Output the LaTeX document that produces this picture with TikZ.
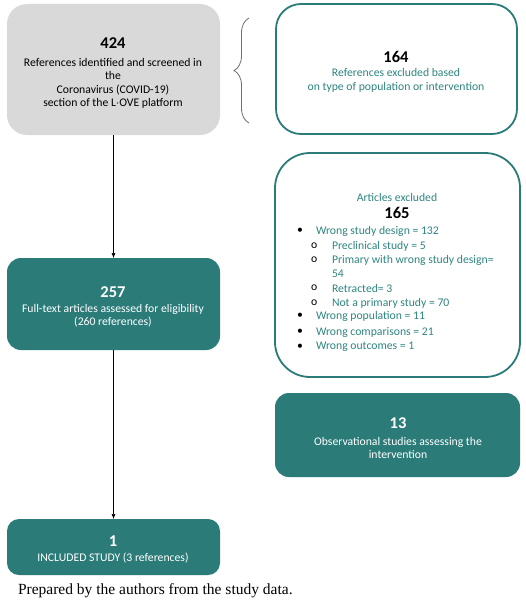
\documentclass[tikz,border=0pt]{standalone}
\usepackage{fontspec}
\setmainfont{Carlito}
\newfontfamily\capfont{Liberation Serif}
\usetikzlibrary{arrows.meta,decorations.pathreplacing}
\definecolor{tealA}{HTML}{2B7C79}
\definecolor{tealT}{HTML}{2F8581}
\definecolor{grayA}{HTML}{D9D9D9}
\definecolor{braceC}{HTML}{6F6F6F}
\begin{document}
\begin{tikzpicture}[x=1pt,y=-1pt,
  every node/.style={inner sep=0pt,outer sep=0pt},
  graybox/.style={fill=grayA,draw=none,rounded corners=20pt},
  outlinebox/.style={draw=tealA,line width=1.8pt,fill=white},
  tealbox/.style={fill=tealA,draw=none,rounded corners=14pt},
  num/.style={font=\fontsize{16.5}{18}\selectfont\bfseries},
  body/.style={font=\fontsize{11.7}{13.4}\selectfont,align=center},
  tealtext/.style={text=tealT},
  wtext/.style={text=white},
  item/.style={anchor=west,font=\fontsize{11.7}{13}\selectfont,text=tealT},
  conn/.style={draw=black,line width=0.6pt,-{Latex[length=5pt,width=4pt]}}
]
\useasboundingbox[fill=white] (0,0) rectangle (525,602);

% boxes
\node[graybox,minimum width=213pt,minimum height=131pt] (g) at (113.5,69.5) {};
\node[outlinebox,rounded corners=25pt,minimum width=241pt,minimum height=130pt] (ex1) at (396.5,69) {};
\node[outlinebox,rounded corners=35pt,minimum width=245pt,minimum height=224pt] (ex2) at (397.5,265) {};
\node[tealbox,minimum width=213pt,minimum height=92pt] (ft) at (113.5,304) {};
\node[tealbox,minimum width=245pt,minimum height=84pt] (obs) at (397.5,435) {};
\node[tealbox,rounded corners=12pt,minimum width=213pt,minimum height=56pt] (inc) at (113.5,547) {};

% brace
\coordinate (bb) at (249,123);
\coordinate (bt) at (249,18);
\draw[braceC,line width=0.8pt,decorate,decoration={brace,amplitude=15pt}] (bb) -- (bt);

% gray box text
\node[num] (gn) at (113,43) {424};
\node[body] (gt) at (113,83.5) {References identified and screened in\\the\\Coronavirus (COVID-19)\\section of the L$\cdot$OVE platform};

% excluded 1
\node[num] (e1n) at (396,57) {164};
\node[body,tealtext,font=\fontsize{11.7}{14}\selectfont] (e1t) at (396,80.5) {References excluded based\\on type of population or intervention};

% excluded 2
\node[body,tealtext] (e2h) at (397,197) {Articles excluded};
\node[num] (e2n) at (397,213) {165};
\node[item,text=black] (b1) at (297,231) {\textbullet};
\node[item] (l1) at (316,231) {Wrong study design = 132};
\node[item,text=black] (c1) at (311,246) {o};
\node[item] (l2) at (332,246) {Preclinical study = 5};
\node[item,text=black] (c2) at (311,260) {o};
\node[item] (l3) at (332,260) {Primary with wrong study design=};
\node[item] (l3b) at (332,274) {54};
\node[item,text=black] (c3) at (311,288) {o};
\node[item] (l4) at (332,288) {Retracted= 3};
\node[item,text=black] (c4) at (311,303) {o};
\node[item] (l5) at (332,303) {Not a primary study = 70};
\node[item,text=black] (b2) at (297,316) {\textbullet};
\node[item] (l6) at (316,316) {Wrong population = 11};
\node[item,text=black] (b3) at (297,332) {\textbullet};
\node[item] (l7) at (316,332) {Wrong comparisons = 21};
\node[item,text=black] (b4) at (297,347) {\textbullet};
\node[item] (l8) at (316,347) {Wrong outcomes = 1};

% full text
\node[num,wtext] (ftn) at (113,292) {257};
\node[body,wtext] (ftt) at (113,316) {Full-text articles assessed for eligibility\\(260 references)};

% observational
\node[num,wtext] (obn) at (398,423) {13};
\node[body,wtext] (obt) at (398,448) {Observational studies assessing the\\intervention};

% included
\node[num,wtext] (inn) at (113,541) {1};
\node[body,wtext] (int) at (113,558) {INCLUDED STUDY (3 references)};

% caption
\node[anchor=west,font=\capfont\fontsize{15.5}{17}\selectfont] (cap) at (18,591) {Prepared by the authors from the study data.};

% connectors
\draw[conn] (g.south) -- (ft.north);
\draw[conn] (ft.south) -- (inc.north);
\end{tikzpicture}
\end{document}
